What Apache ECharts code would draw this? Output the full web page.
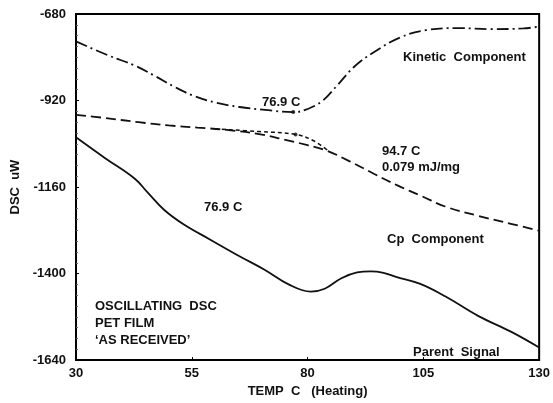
<!DOCTYPE html>
<html><head><meta charset="utf-8">
<script src="https://cdn.jsdelivr.net/npm/echarts@6/dist/echarts.min.js"></script>
<style>html,body{margin:0;padding:0;background:#fff}#c{width:553px;height:403px}</style>
</head><body><div id="c"></div>
<script>
const xTicks = [30, 55, 80, 105, 130];
const yTicks = [-1640, -1400, -1160, -920, -680];
const kinetic = [[30,-756],[37,-795],[42.7,-823],[46.9,-851],[51.1,-881],[55.4,-907],[60.2,-926],[65.3,-938],[70.8,-946],[76.9,-952],[79.5,-946],[83.1,-922],[86.4,-878],[90,-827],[94.3,-786],[100,-745],[105.5,-725],[112.7,-719],[119.6,-722],[126.6,-720],[130,-715]];
const cp = [[30,-960],[36,-968],[43.5,-980],[50,-989],[56.2,-995],[63,-1002],[69.5,-1013],[75.2,-1029],[80,-1044],[84.3,-1060],[89,-1088],[94.3,-1123],[99.5,-1156],[104.8,-1186],[109.7,-1214],[116.9,-1240],[123.9,-1262],[130,-1281]];
const cpShort = [[60,-999],[69.5,-1006],[77.4,-1014],[81.2,-1031],[84.3,-1058]];
const parent = [[30,-1022],[36.3,-1080],[42.7,-1137],[45.4,-1174],[49,-1223],[53.3,-1264],[59,-1306],[65.3,-1352],[70.8,-1390],[75.9,-1430],[80.7,-1450],[83.7,-1442],[87.3,-1413],[90.7,-1397],[93.6,-1394],[96.4,-1398],[99.1,-1409],[104.2,-1428],[109.7,-1463],[116.9,-1518],[123.9,-1561],[130,-1605]];
const markers = [[76.9,-952],[77.4,-1014]];

const font = 'Liberation Sans, Arial, sans-serif';
const txt = (x,y,t) => ({type:'text', left:x, top:y, style:{text:t, font:'bold 13px '+font, fill:'#111'}});
const line = (data, w, type) => ({type:'line', data, smooth:0.4, symbol:'none', lineStyle:{color:'#111', width:w, type}});
const chart = echarts.init(document.getElementById('c'));
chart.setOption({
  animation:false,
  grid:{left:76, right:4, top:14, bottom:36, show:true, borderColor:'#000', borderWidth:2},
  xAxis:{type:'value', min:30, max:130, interval:25,
    axisLine:{lineStyle:{color:'#000', width:2}}, axisTick:{show:true, inside:true, length:3, lineStyle:{color:'#000'}},
    axisLabel:{color:'#111', fontWeight:'bold', fontSize:13, fontFamily:font, margin:7, customValues:xTicks, formatter:v=>String(v)},
    splitLine:{show:false},
    name:'TEMP  C   (Heating)', nameLocation:'middle', nameGap:24,
    nameTextStyle:{color:'#111', fontWeight:'bold', fontSize:13, fontFamily:font}},
  yAxis:{type:'value', min:-1640, max:-680, interval:240,
    axisLine:{lineStyle:{color:'#000', width:2}}, axisTick:{show:true, inside:true, length:3, lineStyle:{color:'#000'}},
    minorTick:{show:true, splitNumber:8, length:2, lineStyle:{color:'#666'}},
    axisLabel:{color:'#111', fontWeight:'bold', fontSize:13, fontFamily:font, margin:10, customValues:yTicks, formatter:v=>String(v)},
    splitLine:{show:false},
    name:'DSC  uW', nameLocation:'middle', nameGap:45,
    nameTextStyle:{color:'#111', fontWeight:'bold', fontSize:13, fontFamily:font}},
  series:[
    line(kinetic, 1.8, [12,4,2,4]),
    line(cp, 1.8, [10,5]),
    line(cpShort, 1.5, [4,3]),
    line(parent, 1.8, 'solid'),
    {type:'scatter', data:markers, symbolSize:4, itemStyle:{color:'#111'}}
  ],
  graphic:[
    txt(403,51,'Kinetic  Component'),
    txt(262,96,'76.9 C'),
    txt(382,145,'94.7 C'),
    txt(382,161,'0.079 mJ/mg'),
    txt(204,201,'76.9 C'),
    txt(387,233,'Cp  Component'),
    txt(413,346,'Parent  Signal'),
    txt(95,300,'OSCILLATING  DSC'),
    txt(95,317,'PET FILM'),
    txt(95,334,'\u2018AS RECEIVED\u2019')
  ]
});
</script></body></html>
